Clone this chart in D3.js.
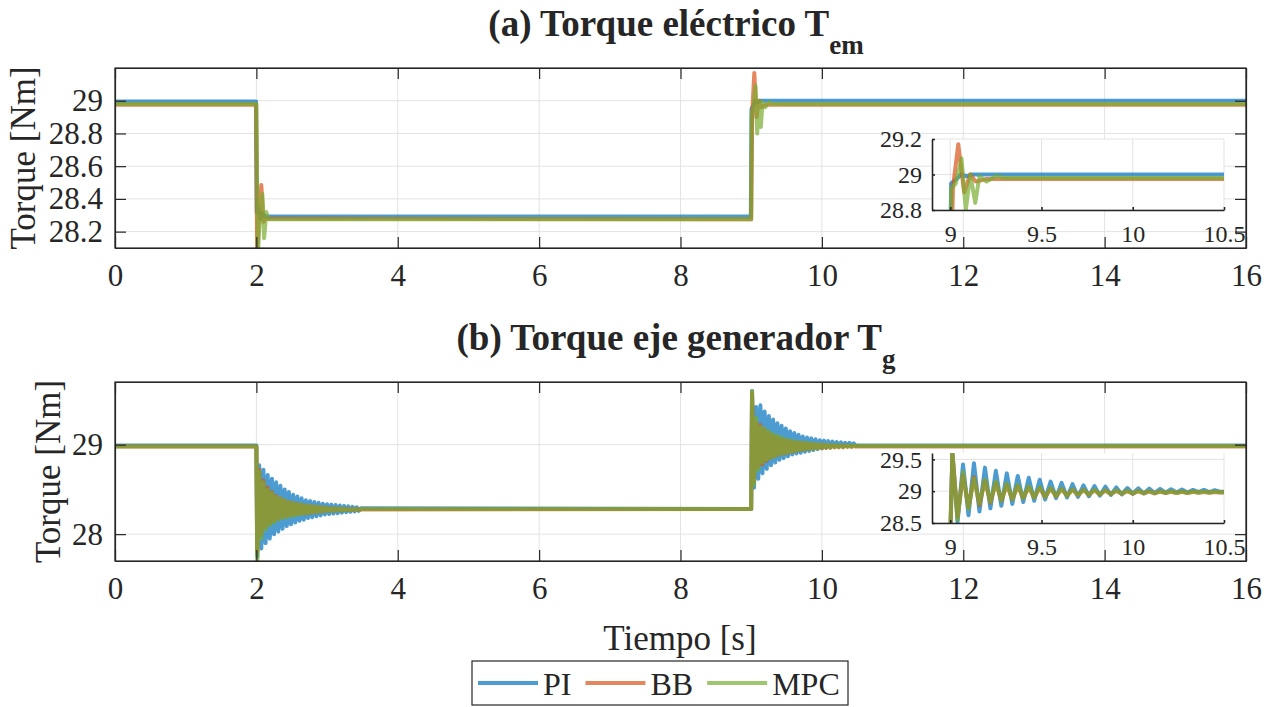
<!DOCTYPE html>
<html>
<head>
<meta charset="utf-8">
<script src="https://cdn.jsdelivr.net/npm/d3@7"></script>
<style>
	body { margin: 0; background: #ffffff; }
	svg text { font-family: "Liberation Serif", "Times New Roman", serif; fill: #262626; }
</style>
</head>
<body>
<script>
	const seriesNames = ["PI", "BB", "MPC"];

	const xTicks = [0, 2, 4, 6, 8, 10, 12, 14, 16];
	const aYTicks = [28.2, 28.4, 28.6, 28.8, 29];
	const bYTicks = [28, 29];
	const insetXTicks = [9, 9.5, 10, 10.5];
	const aInsetYTicks = [28.8, 29, 29.2];
	const bInsetYTicks = [28.5, 29, 29.5];

	//(a) electrical torque
	const aTimePI = [0, 1.995, 2.005, 2.03, 2.06, 2.09, 2.13, 8.995, 9.005, 9.03, 9.06, 9.09, 9.12, 16];
	const aTorquePI = [28.995, 28.995, 28.32, 28.34, 28.28, 28.31, 28.292, 28.292, 28.95, 28.97, 29.0, 28.99, 29.0, 29.0];
	const aTimeBB = [0, 1.995, 2.01, 2.04, 2.07, 2.1, 2.13, 8.995, 9.0, 9.015, 9.044, 9.076, 9.11, 9.14, 9.2, 16];
	const aTorqueBB = [28.975, 28.975, 28.05, 28.3, 28.485, 28.26, 28.28, 28.275, 28.275, 28.93, 29.17, 28.9, 29.0, 28.96, 28.975, 28.975];
	const aTimeMPC = [0, 2.0, 2.02, 2.05, 2.085, 2.11, 2.14, 2.17, 9.0, 9.005, 9.03, 9.062, 9.085, 9.11, 9.137, 9.16, 9.2, 9.25, 9.3, 16];
	const aTorqueMPC = [28.98, 28.98, 28.05, 28.3, 28.43, 28.16, 28.32, 28.275, 28.275, 28.92, 28.95, 29.09, 28.8, 29.0, 28.84, 28.99, 28.96, 28.99, 28.98, 28.98];

	//(b) generator shaft torque: samples after each load step
	const stepTimes = [2, 9];
	const oscOffsets = [0, 0.012, 0.04, 0.07, 0.10, 0.13, 0.16, 0.19, 0.22, 0.25, 0.28, 0.31, 0.34, 0.37, 0.40, 0.43, 0.46, 0.49, 0.52, 0.55, 0.58, 0.61, 0.64, 0.67, 0.70, 0.73, 0.76, 0.79, 0.82, 0.85, 0.88, 0.91, 0.94, 0.97, 1.00, 1.03, 1.06, 1.09, 1.12, 1.15, 1.18, 1.21, 1.24, 1.27, 1.30, 1.33, 1.36, 1.39, 1.42, 1.45, 1.48];

	const bDownPI = [28.99, 27.75, 28.77, 27.84, 28.72, 27.9, 28.66, 27.95, 28.62, 28.0, 28.58, 28.03, 28.54, 28.06, 28.5, 28.09, 28.47, 28.11, 28.44, 28.13, 28.42, 28.15, 28.4, 28.16, 28.38, 28.18, 28.37, 28.19, 28.36, 28.2, 28.35, 28.21, 28.34, 28.22, 28.335, 28.225, 28.33, 28.23, 28.325, 28.235, 28.32, 28.24, 28.315, 28.245, 28.31, 28.25, 28.305, 28.255, 28.3, 28.26, 28.29];
	const bDownBB = [28.98, 27.8, 28.72, 28.0, 28.6, 28.08, 28.52, 28.12, 28.47, 28.15, 28.43, 28.17, 28.4, 28.19, 28.38, 28.2, 28.36, 28.21, 28.35, 28.22, 28.34, 28.225, 28.33, 28.23, 28.32, 28.235, 28.315, 28.24, 28.31, 28.245, 28.305, 28.25, 28.3, 28.255, 28.295, 28.26, 28.29, 28.26, 28.29, 28.265, 28.285, 28.265, 28.285, 28.27, 28.28, 28.27, 28.28, 28.27, 28.28, 28.275, 28.275];
	const bDownMPC = [28.98, 27.6, 28.7, 27.95, 28.58, 28.05, 28.5, 28.1, 28.46, 28.13, 28.42, 28.16, 28.4, 28.18, 28.38, 28.19, 28.36, 28.2, 28.35, 28.21, 28.34, 28.22, 28.33, 28.23, 28.32, 28.235, 28.315, 28.24, 28.31, 28.245, 28.305, 28.25, 28.3, 28.255, 28.295, 28.26, 28.29, 28.26, 28.29, 28.265, 28.285, 28.265, 28.285, 28.27, 28.28, 28.27, 28.28, 28.27, 28.28, 28.275, 28.28];

	const bUpPI = [28.28, 29.6, 28.52, 29.42, 28.62, 29.44, 28.68, 29.37, 28.73, 29.32, 28.77, 29.28, 28.80, 29.24, 28.83, 29.21, 28.85, 29.18, 28.87, 29.15, 28.89, 29.13, 28.90, 29.11, 28.91, 29.09, 28.92, 29.08, 28.93, 29.07, 28.94, 29.06, 28.95, 29.05, 28.96, 29.045, 28.965, 29.04, 28.97, 29.035, 28.975, 29.03, 28.98, 29.025, 28.98, 29.02, 28.985, 29.02, 28.985, 29.015, 28.99];
	const bUpBB = [28.28, 29.58, 28.6, 29.25, 28.75, 29.22, 28.78, 29.17, 28.82, 29.13, 28.85, 29.1, 28.87, 29.08, 28.89, 29.06, 28.9, 29.05, 28.91, 29.04, 28.92, 29.03, 28.93, 29.025, 28.94, 29.02, 28.945, 29.015, 28.95, 29.01, 28.955, 29.005, 28.96, 29.0, 28.96, 29.0, 28.965, 28.995, 28.965, 28.995, 28.97, 28.99, 28.97, 28.99, 28.97, 28.99, 28.975, 28.985, 28.975, 28.985, 28.98];
	const bUpMPC = [28.28, 29.6, 28.55, 29.3, 28.72, 29.2, 28.8, 29.18, 28.83, 29.15, 28.85, 29.12, 28.87, 29.1, 28.89, 29.08, 28.9, 29.06, 28.91, 29.05, 28.92, 29.04, 28.93, 29.03, 28.94, 29.025, 28.945, 29.02, 28.95, 29.015, 28.955, 29.01, 28.96, 29.005, 28.965, 29.0, 28.97, 29.0, 28.97, 28.995, 28.975, 28.995, 28.975, 28.99, 28.975, 28.99, 28.98, 28.99, 28.98, 28.99, 28.985];

	const colors = ["#0072BD", "#D95319", "#77AC30"];
	const axisColor = "#262626";
	const gridColor = "#e3e3e3";
	const serif = '"Liberation Serif", "Times New Roman", serif';

	document.addEventListener("DOMContentLoaded", function(event) {
		const svg = d3.select("body")
					  .append("svg")
					  .attr("width", 1280)
					  .attr("height", 707)
					  .style("font-family", serif);

		const xMain = d3.scaleLinear().domain([0, 16]).range([115, 1246]);
		const xInset = d3.scaleLinear().domain([8.9, 10.5]).range([932, 1224]);

		const aSeries = [
			zip(aTimePI, aTorquePI),
			zip(aTimeBB, aTorqueBB),
			zip(aTimeMPC, aTorqueMPC)
		];
		const bSeries = [
			stepSeries(bDownPI, bUpPI),
			stepSeries(bDownBB, bUpBB),
			stepSeries(bDownMPC, bUpMPC)
		];

		drawPanel(svg, "a", {
			title: "(a) Torque eléctrico T", sub: "em", titleY: 36, labelX: 35,
			x: xMain,
			y: d3.scaleLinear().domain([28.1, 29.2]).range([248, 68]),
			yTicks: aYTicks,
			series: aSeries,
			insetY: d3.scaleLinear().domain([28.8, 29.2]).range([210, 139]),
			insetYTicks: aInsetYTicks
		}, xInset);

		drawPanel(svg, "b", {
			title: "(b) Torque eje generador T", sub: "g", titleY: 350, labelX: 60,
			x: xMain,
			y: d3.scaleLinear().domain([27.7, 29.7]).range([561, 382]),
			yTicks: bYTicks,
			series: bSeries,
			insetY: d3.scaleLinear().domain([28.5, 29.6]).range([523, 453]),
			insetYTicks: bInsetYTicks
		}, xInset);

		svg.append("text")
		   .attr("x", 680)
		   .attr("y", 650)
		   .attr("text-anchor", "middle")
		   .attr("font-size", 35)
		   .style("font-family", serif)
		   .text("Tiempo [s]");

		drawLegend(svg);
	});

	/**
	 * pair up two arrays into [x, y] points
	 */
	function zip(xs, ys) {
		return xs.map(function(x, i) { return [x, ys[i]]; });
	}

	/**
	 * join the samples after the two load steps into one series
	 */
	function stepSeries(down, up) {
		const pts = [[0, down[0]]];
		oscOffsets.forEach(function(o, i) { pts.push([stepTimes[0] + o, down[i]]); });
		oscOffsets.forEach(function(o, i) { pts.push([stepTimes[1] + o, up[i]]); });
		pts.push([16, up[up.length - 1]]);
		return pts;
	}

	/**
	 * draw a main axes with its title, grid, lines and zoom inset
	 */
	function drawPanel(svg, id, cfg, xInset) {
		const x = cfg.x, y = cfg.y;
		const x0 = x.range()[0], x1 = x.range()[1];
		const yB = y.range()[0], yT = y.range()[1];

		//title with subscript
		const title = svg.append("text")
						 .attr("x", 676)
						 .attr("y", cfg.titleY)
						 .attr("text-anchor", "middle")
						 .attr("font-size", 37)
						 .attr("font-weight", "bold")
						 .style("font-family", serif);
		title.append("tspan").text(cfg.title);
		title.append("tspan").attr("dy", 18).attr("font-size", 27).text(cfg.sub);

		drawGrid(svg, x, y, xTicks, cfg.yTicks);

		svg.append("clipPath").attr("id", "clip-" + id)
		   .append("rect").attr("x", x0).attr("y", yT).attr("width", x1 - x0).attr("height", yB - yT);
		drawLines(svg, cfg.series, x, y, "clip-" + id);

		//axes with inward ticks on all sides
		const fmt = d3.format("~g");
		addAxis(svg, d3.axisBottom(x).tickValues(xTicks).tickFormat(fmt).tickSize(-11).tickPadding(16), 0, yB, 31);
		addAxis(svg, d3.axisTop(x).tickValues(xTicks).tickFormat("").tickSize(-11), 0, yT, 31);
		addAxis(svg, d3.axisLeft(y).tickValues(cfg.yTicks).tickFormat(fmt).tickSize(-11).tickPadding(12), x0, 0, 31);
		addAxis(svg, d3.axisRight(y).tickValues(cfg.yTicks).tickFormat("").tickSize(-11), x1, 0, 31);

		svg.append("rect")
		   .attr("x", x0).attr("y", yT)
		   .attr("width", x1 - x0).attr("height", yB - yT)
		   .attr("fill", "none")
		   .attr("stroke", axisColor)
		   .attr("stroke-width", 1.2);

		svg.append("text")
		   .attr("transform", "translate(" + cfg.labelX + "," + ((yB + yT) / 2) + ") rotate(-90)")
		   .attr("text-anchor", "middle")
		   .attr("font-size", 35)
		   .style("font-family", serif)
		   .text("Torque [Nm]");

		//inset
		const iy = cfg.insetY;
		const ix0 = xInset.range()[0], ix1 = xInset.range()[1];
		const iyB = iy.range()[0], iyT = iy.range()[1];
		svg.append("rect")
		   .attr("x", ix0).attr("y", iyT)
		   .attr("width", ix1 - ix0).attr("height", iyB - iyT)
		   .attr("fill", "#ffffff");
		drawGrid(svg, xInset, iy, insetXTicks, cfg.insetYTicks);

		svg.append("clipPath").attr("id", "clip-inset-" + id)
		   .append("rect").attr("x", ix0).attr("y", iyT).attr("width", ix1 - ix0).attr("height", iyB - iyT);
		drawLines(svg, cfg.series, xInset, iy, "clip-inset-" + id);

		addAxis(svg, d3.axisBottom(xInset).tickValues(insetXTicks).tickFormat(fmt).tickSize(-3).tickPadding(15), 0, iyB, 24, 1.6);
		addAxis(svg, d3.axisLeft(iy).tickValues(cfg.insetYTicks).tickFormat(fmt).tickSize(-3).tickPadding(10), ix0, 0, 24, 1.6);
	}

	/**
	 * light grid lines at the tick values
	 */
	function drawGrid(svg, x, y, xt, yt) {
		const g = svg.append("g").attr("stroke", gridColor).attr("stroke-width", 1);
		g.selectAll(".gx").data(xt).enter().append("line")
		 .attr("x1", function(d) { return x(d); }).attr("x2", function(d) { return x(d); })
		 .attr("y1", y.range()[0]).attr("y2", y.range()[1]);
		g.selectAll(".gy").data(yt).enter().append("line")
		 .attr("y1", function(d) { return y(d); }).attr("y2", function(d) { return y(d); })
		 .attr("x1", x.range()[0]).attr("x2", x.range()[1]);
	}

	/**
	 * the three controller traces, PI first and MPC on top
	 */
	function drawLines(svg, series, x, y, clipId) {
		const line = d3.line()
					   .x(function(d) { return x(d[0]); })
					   .y(function(d) { return y(d[1]); });
		svg.append("g")
		   .attr("clip-path", "url(#" + clipId + ")")
		   .selectAll("path")
		   .data(series)
		   .enter()
		   .append("path")
		   .attr("d", line)
		   .attr("fill", "none")
		   .attr("stroke", function(d, i) { return colors[i]; })
		   .attr("stroke-opacity", 0.7)
		   .attr("stroke-width", 4)
		   .attr("stroke-linejoin", "round");
	}

	function addAxis(svg, axis, tx, ty, fontSize, width) {
		const g = svg.append("g")
					 .attr("transform", "translate(" + tx + "," + ty + ")")
					 .call(axis.tickSizeOuter(0));
		g.attr("font-family", null).attr("font-size", null);
		g.select(".domain").attr("stroke", axisColor).attr("stroke-width", width || 1.2);
		g.selectAll(".tick line").attr("stroke", axisColor).attr("stroke-width", width || 1.2);
		g.selectAll(".tick text")
		 .attr("font-size", fontSize)
		 .style("font-family", serif)
		 .attr("fill", axisColor);
		return g;
	}

	/**
	 * horizontal legend box under the x label
	 */
	function drawLegend(svg) {
		svg.append("rect")
		   .attr("x", 472).attr("y", 661)
		   .attr("width", 376).attr("height", 44)
		   .attr("fill", "#ffffff")
		   .attr("stroke", axisColor)
		   .attr("stroke-width", 1.2);
		let cx = 478;
		seriesNames.forEach(function(name, i) {
			svg.append("line")
			   .attr("x1", cx).attr("x2", cx + 60)
			   .attr("y1", 683).attr("y2", 683)
			   .attr("stroke", colors[i])
			   .attr("stroke-opacity", 0.7)
			   .attr("stroke-width", 4);
			const t = svg.append("text")
						 .attr("x", cx + 65)
						 .attr("y", 695)
						 .attr("font-size", 32)
						 .style("font-family", serif)
						 .text(name);
			cx += 65 + t.node().getComputedTextLength() + 14;
		});
	}
</script>
</body>
</html>
